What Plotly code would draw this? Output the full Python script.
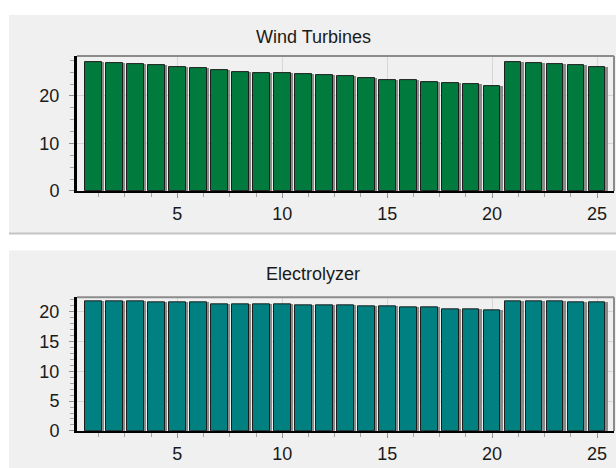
import plotly.graph_objects as go

W, H = 616, 468
FIG_H = 479  # compensates vertical compression seen in the rendered photo

periods = list(range(1, 26))
wind_turbines = [27.2, 26.9, 26.7, 26.5, 26.1, 25.8, 25.5, 25.1, 24.9, 24.9,
                 24.6, 24.35, 24.1, 23.7, 23.4, 23.3, 22.9, 22.7, 22.4, 22.1,
                 27.2, 26.9, 26.7, 26.4, 26.0]
electrolyzer = [21.8, 21.8, 21.8, 21.6, 21.6, 21.6, 21.3, 21.3, 21.3, 21.3,
                21.1, 21.1, 21.1, 20.9, 20.9, 20.7, 20.65, 20.4, 20.4, 20.2,
                21.8, 21.8, 21.8, 21.6, 21.6]
titles = ["Wind Turbines", "Electrolyzer"]
x_ticks = [5, 10, 15, 20, 25]
top_y_ticks = [0, 10, 20]
bottom_y_ticks = [0, 5, 10, 15, 20]


def px(x):
    return x / W


def py(y):
    return 1 - y / H


FONT = "Liberation Sans, Arial, sans-serif"
PANEL = "#F0F0F0"

fig = go.Figure()

# Shadows then bars
for vals, color, xa, ya in [(wind_turbines, "#007A3D", "x", "y"),
                            (electrolyzer, "#008080", "x2", "y2")]:
    fig.add_trace(go.Bar(x=periods, y=vals, width=0.8, offset=-0.28,
                         marker=dict(color="#8A8A8A", line=dict(width=0)),
                         xaxis=xa, yaxis=ya, hoverinfo="skip", showlegend=False))
    fig.add_trace(go.Bar(x=periods, y=vals, width=0.8,
                         marker=dict(color=color, line=dict(color="#1E1E1E", width=1)),
                         xaxis=xa, yaxis=ya, showlegend=False))

x_dom = [px(77), px(614)]
common_x = dict(range=[0.22, 25.81], domain=x_dom, tickmode="array", tickvals=x_ticks,
                ticks="outside", ticklen=5, tickcolor="#909090", tickwidth=1,
                showline=True, linecolor="black", linewidth=2,
                showgrid=True, gridcolor="#D6D6D6", gridwidth=1, zeroline=False,
                tickfont=dict(family=FONT, size=18, color="#1A1A1A"),
                ticklabelstandoff=0,
                minor=dict(dtick=1.25, tick0=0, ticks="outside", ticklen=4,
                           tickcolor="#A8A8A8", showgrid=False))

fig.update_layout(
    width=W, height=FIG_H, margin=dict(l=0, r=0, t=0, b=0),
    paper_bgcolor="white", plot_bgcolor=PANEL,
    barmode="overlay", bargap=0,
    xaxis=dict(**common_x, anchor="y"),
    xaxis2=dict(**common_x, anchor="y2"),
    yaxis=dict(domain=[py(190.5), py(56)], range=[0, 28.4], anchor="x",
               tickmode="array", tickvals=top_y_ticks,
               ticks="outside", ticklen=5, tickcolor="#909090",
               showline=True, linecolor="black", linewidth=3,
               showgrid=True, gridcolor="#D6D6D6", zeroline=False,
               tickfont=dict(family=FONT, size=18, color="#1A1A1A"),
               ticklabelstandoff=6,
               minor=dict(dtick=2.5, tick0=0, ticks="outside", ticklen=4,
                          tickcolor="#A8A8A8", showgrid=False)),
    yaxis2=dict(domain=[py(430), py(296.7)], range=[0, 22.4], anchor="x2",
                tickmode="array", tickvals=bottom_y_ticks,
                ticks="outside", ticklen=5, tickcolor="#909090",
                showline=True, linecolor="black", linewidth=3,
                showgrid=True, gridcolor="#D6D6D6", zeroline=False,
                tickfont=dict(family=FONT, size=18, color="#1A1A1A"),
                ticklabelstandoff=6,
                minor=dict(dtick=1, tick0=0, ticks="outside", ticklen=4,
                           tickcolor="#A8A8A8", showgrid=False)),
)

shapes = [
    dict(type="rect", xref="paper", yref="paper", x0=px(9), x1=1, y0=py(233), y1=py(15),
         fillcolor=PANEL, line=dict(width=0), layer="below"),
    dict(type="line", xref="paper", yref="paper", x0=px(9), x1=1, y0=py(233), y1=py(233),
         line=dict(color="#C4C4C4", width=2), layer="below"),
    dict(type="rect", xref="paper", yref="paper", x0=px(9), x1=1, y0=0, y1=py(250),
         fillcolor=PANEL, line=dict(width=0), layer="below"),
]
for xr, yr in [("x domain", "y domain"), ("x2 domain", "y2 domain")]:
    shapes.append(dict(type="line", xref=xr, yref=yr, x0=0, x1=1, y0=1, y1=1,
                       line=dict(color="#8C8C8C", width=2), layer="above"))
    shapes.append(dict(type="line", xref=xr, yref=yr, x0=1, x1=1, y0=0, y1=1,
                       line=dict(color="#8C8C8C", width=2), layer="above"))
fig.update_layout(shapes=shapes)

for t, yc in zip(titles, [37, 273]):
    fig.add_annotation(text=t, xref="paper", yref="paper", x=px(313), y=py(yc),
                       showarrow=False, xanchor="center", yanchor="middle",
                       font=dict(family=FONT, size=18, color="#1A1A1A"))

fig.write_html("out.html", config={"displayModeBar": False},
               post_script="document.body.style.margin='0';"
                           "document.body.style.overflow='hidden';")
